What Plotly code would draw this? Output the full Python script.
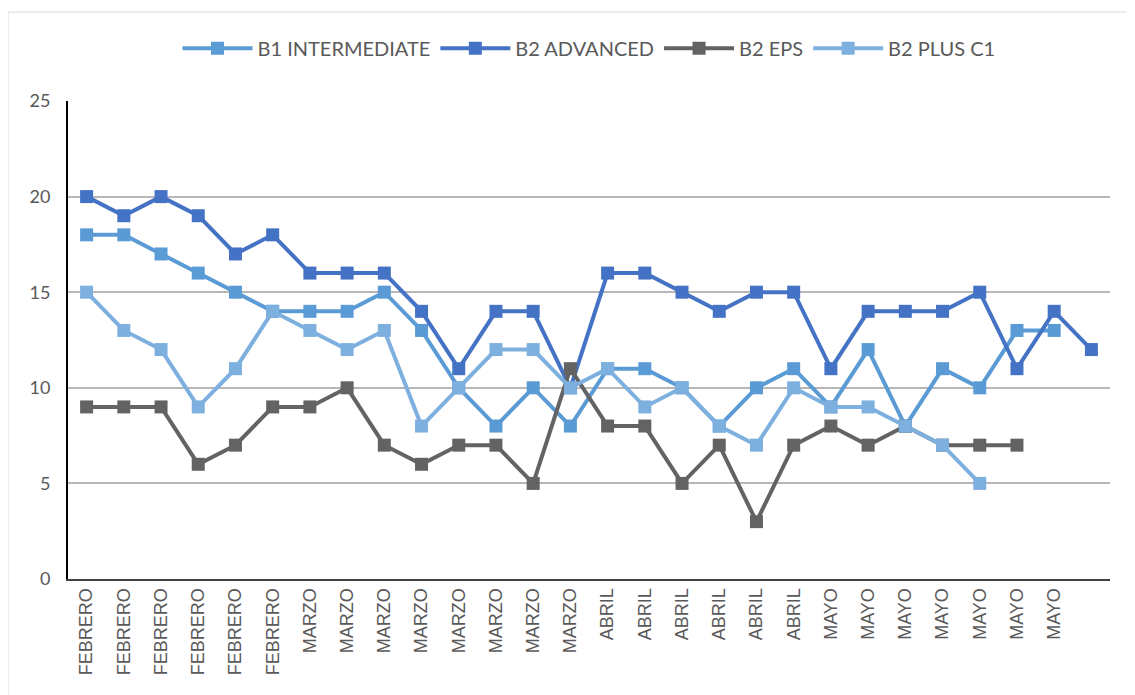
import plotly.graph_objects as go

# x-axis labels (last slot has no label)
month_labels = (["FEBRERO"] * 6 + ["MARZO"] * 8 + ["ABRIL"] * 6 + ["MAYO"] * 7 + [""])

b1_intermediate = [18, 18, 17, 16, 15, 14, 14, 14, 15, 13, 10, 8, 10, 8,
                   11, 11, 10, 8, 10, 11, 9, 12, 8, 11, 10, 13, 13]
b2_advanced = [20, 19, 20, 19, 17, 18, 16, 16, 16, 14, 11, 14, 14, 10,
               16, 16, 15, 14, 15, 15, 11, 14, 14, 14, 15, 11, 14, 12]
b2_eps = [9, 9, 9, 6, 7, 9, 9, 10, 7, 6, 7, 7, 5, 11,
          8, 8, 5, 7, 3, 7, 8, 7, 8, 7, 7, 7]
b2_plus_c1 = [15, 13, 12, 9, 11, 14, 13, 12, 13, 8, 10, 12, 12, 10,
              11, 9, 10, 8, 7, 10, 9, 9, 8, 7, 5]

series = [
    ("B1 INTERMEDIATE", b1_intermediate, "#5B9BD5"),
    ("B2 ADVANCED", b2_advanced, "#4472C4"),
    ("B2 EPS", b2_eps, "#636363"),
    ("B2 PLUS C1", b2_plus_c1, "#7EB0DF"),
]

fig = go.Figure()
for name, vals, col in series:
    fig.add_trace(go.Scatter(
        x=list(range(len(vals))), y=vals, name=name, mode="lines+markers",
        line=dict(color=col, width=4),
        marker=dict(symbol="square", size=13, color=col),
    ))

# page has an 8px body margin, so margins are offset by that
fig.update_layout(
    width=1135, height=695,
    margin=dict(l=60, r=33, t=93, b=124),
    paper_bgcolor="white", plot_bgcolor="white",
    font=dict(family="Lato, Liberation Sans, sans-serif", color="#595959"),
    legend=dict(orientation="h", x=0.5, xanchor="center", yref="container",
                y=0.942, yanchor="middle", font=dict(size=20, color="#595959"),
                itemwidth=70, tracegroupgap=0),
    shapes=[dict(type="rect", xref="paper", yref="paper", x0=-0.0576, x1=1.017,
                 y0=-0.3, y1=1.186, line=dict(color="#D9D9D9", width=1))],
)
fig.update_xaxes(
    range=[-0.5, len(month_labels) - 0.5],
    tickmode="array", tickvals=list(range(len(month_labels))), ticktext=month_labels,
    tickangle=-90, tickfont=dict(family="Liberation Sans, Arial", size=18, color="#595959"),
    showgrid=False, showline=True, linecolor="#404040", linewidth=2, ticks="",
    zeroline=False,
)
fig.update_yaxes(
    range=[0, 25], dtick=5, showgrid=True, gridcolor="#B7B7B7", gridwidth=2,
    showline=True, linecolor="#000000", linewidth=2, zeroline=False,
    tickfont=dict(size=18, color="#595959"), ticks="", ticklabelstandoff=12,
)

fig.write_html("out.html")
